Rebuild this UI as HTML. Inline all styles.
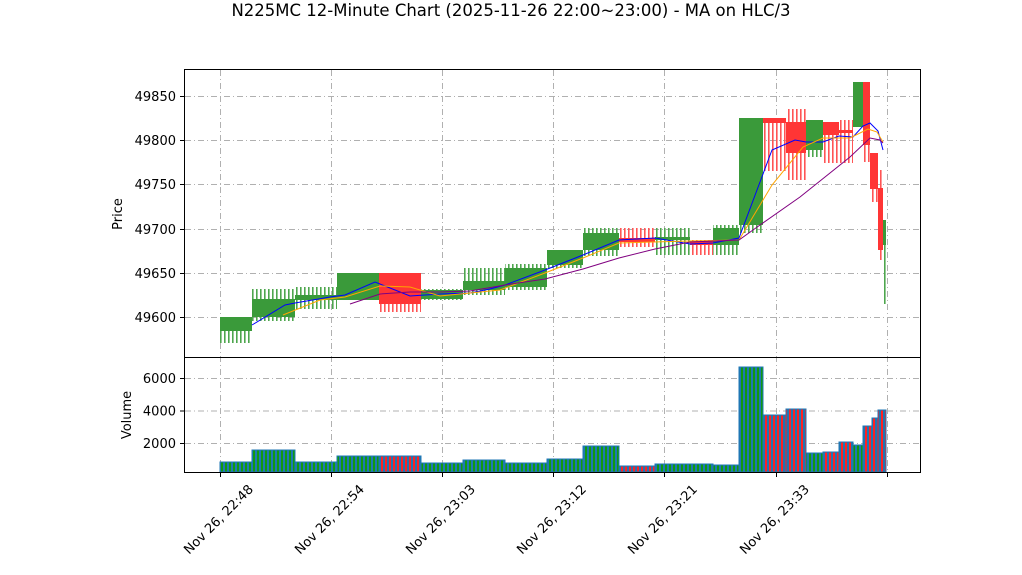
<!DOCTYPE html>
<html><head><meta charset="utf-8"><style>
body{margin:0;background:#fff;}
svg{display:block;font-family:"DejaVu Sans","Liberation Sans",sans-serif;}
</style></head><body>
<svg id="s" width="1022" height="575" xmlns="http://www.w3.org/2000/svg">
<defs>
<pattern id="wg" width="4" height="10" patternUnits="userSpaceOnUse"><rect x="0" y="0" width="1.6" height="10" fill="#4ea64e"/></pattern>
<pattern id="wr" width="4" height="10" patternUnits="userSpaceOnUse"><rect x="0" y="0" width="1.6" height="10" fill="#ff5555"/></pattern>
<pattern id="vg" width="4" height="10" patternUnits="userSpaceOnUse"><rect width="4" height="10" fill="#1f77b4"/><rect x="1" y="0" width="2" height="10" fill="#119911"/></pattern>
<pattern id="vr" width="4" height="10" patternUnits="userSpaceOnUse"><rect width="4" height="10" fill="#1f77b4"/><rect x="1" y="0" width="2" height="10" fill="#ff2222"/></pattern>
</defs>
<rect width="1022" height="575" fill="#fff"/>
<text x="511" y="16" font-size="16.5" text-anchor="middle">N225MC 12-Minute Chart (2025-11-26 22:00~23:00) - MA on HLC/3</text>
<g id="grid" stroke="#b0b0b0" stroke-width="1" stroke-dasharray="6,3,1,3"></g>
<g id="c"></g>
<g id="ma" fill="none" stroke-width="1"></g>
<rect x="184.5" y="69.5" width="736" height="288" fill="none" stroke="#000"/>
<rect x="184.5" y="357.5" width="736" height="115" fill="none" stroke="#000"/>
<g id="ax" font-size="13"></g>
<text transform="translate(122,214) rotate(-90)" font-size="13" text-anchor="middle">Price</text>
<text transform="translate(131,415) rotate(-90)" font-size="13" text-anchor="middle">Volume</text>
</svg>
<script>
const NS="http://www.w3.org/2000/svg";
function el(p,t,a,txt){const e=document.createElementNS(NS,t);for(const k in a)e.setAttribute(k,a[k]);if(txt)e.textContent=txt;document.getElementById(p).appendChild(e);return e;}
const xs=[220,331,442,553,664,776,887];
xs.forEach(x=>{el('grid','line',{x1:x+.5,x2:x+.5,y1:70,y2:472});});
const py=[[49850,96],[49800,140],[49750,184],[49700,229],[49650,273],[49600,317]];
py.forEach(([v,y])=>{el('grid','line',{x1:185,x2:920,y1:y+.5,y2:y+.5});el('ax','line',{x1:180,x2:184,y1:y+.5,y2:y+.5,stroke:'#000'});el('ax','text',{x:176,y:y+5,'text-anchor':'end'},v);});
[[6000,378],[4000,410.5],[2000,443]].forEach(([v,y])=>{el('grid','line',{x1:185,x2:920,y1:y+.5,y2:y+.5});el('ax','line',{x1:180,x2:184,y1:y+.5,y2:y+.5,stroke:'#000'});el('ax','text',{x:176,y:y+5,'text-anchor':'end'},v);});
const labs=["Nov 26, 22:48","Nov 26, 22:54","Nov 26, 23:03","Nov 26, 23:12","Nov 26, 23:21","Nov 26, 23:33"];
xs.forEach((x,i)=>{el('ax','line',{x1:x+.5,x2:x+.5,y1:472,y2:477,stroke:'#000'});if(labs[i])el('ax','text',{x:x+34,y:490,'text-anchor':'end',transform:`rotate(-45 ${x+34} 490)`},labs[i]);});
const C=[[220,252,'g',317,331,317,343],[252,295,'g',299,317,289,321],[295,337,'g',295,300,287,309],[337,379,'g',273,300,273,300],[379,421,'r',273,304,273,312],[421,463,'g',290,299,289,300],[463,505,'g',281,290,268,295],[505,547,'g',268,287,264,290],[547,583,'g',250,265,250,268],[583,619,'g',233,250,228,256],[619,655,'r',238,242,228,247],[655,690,'g',237,240,228,255],[690,713,'r',241,245,240,255],[713,739,'g',228,245,225,255],[739,763,'g',118,225,118,233],[763,786,'r',118,123,118,171],[786,806,'r',122,153,109,180],[806,823,'g',120,150,120,157],[823,839,'r',122,135,122,163],[839,853,'r',130,133,120,163],[853,863,'g',82,127,82,127],[863,870,'r',82,145,82,162],[870,878,'r',153,189,171,202],[878,883,'r',188,250,170,260],[883,886,'g',220,245,220,304]];
C.forEach(([a,b,c,bt,bb,wt,wb])=>{el('c','rect',{x:a,y:wt,width:b-a,height:wb-wt,fill:c=='g'?'url(#wg)':'url(#wr)'});el('c','rect',{x:a,y:bt,width:b-a,height:Math.max(1,bb-bt),fill:c=='g'?'#3a9a3a':'#ff3535'});});
const V=[[220,252,'g',462],[252,295,'g',450],[295,337,'g',462],[337,379,'g',456],[379,421,'r',456],[421,463,'g',463],[463,505,'g',460],[505,547,'g',463],[547,583,'g',459],[583,619,'g',446],[619,655,'r',466],[655,713,'g',464],[713,739,'g',465],[739,763,'g',367],[763,786,'r',415],[786,806,'r',409],[806,823,'g',453],[823,839,'r',452],[839,853,'r',442],[853,863,'g',445],[863,872,'r',426],[872,878,'r',418],[878,886,'r',410]];
V.forEach(([a,b,c,t])=>{el('c','rect',{x:a,y:t,width:b-a,height:472-t,fill:c=='g'?'url(#vg)':'url(#vr)',stroke:'#1f77b4','stroke-width':1});});
const blue=[[252,325],[285,305],[295,303],[330,297],[345,295],[375,282],[385,286],[410,296],[440,294],[470,293],[490,289],[505,285],[545,270],[583,255],[619,240],[655,238],[690,244],[713,243],[739,238],[772,150],[795,140],[806,142],[823,142],[839,136],[853,137],[863,126],[870,123],[878,131],[883,150]];
const orange=[[283,315],[320,300],[345,297],[380,286],[410,287],[440,296],[460,294],[500,290],[545,273],[583,258],[619,243],[690,241],[739,240],[772,185],[803,147],[823,138],[850,138],[868,129],[877,132],[883,142]];
const purple=[[350,304],[380,294],[410,292],[440,292],[470,291],[505,285],[545,279],[583,269],[619,258],[655,249],[690,242],[739,240],[760,225],[800,197],[850,157],[870,138],[880,140],[883,143]];
[[blue,'#0000ff'],[orange,'#ffa500'],[purple,'#800080']].forEach(([p,c])=>el('ma','polyline',{points:p.map(q=>q.join(',')).join(' '),stroke:c}));
</script>
</body></html>
